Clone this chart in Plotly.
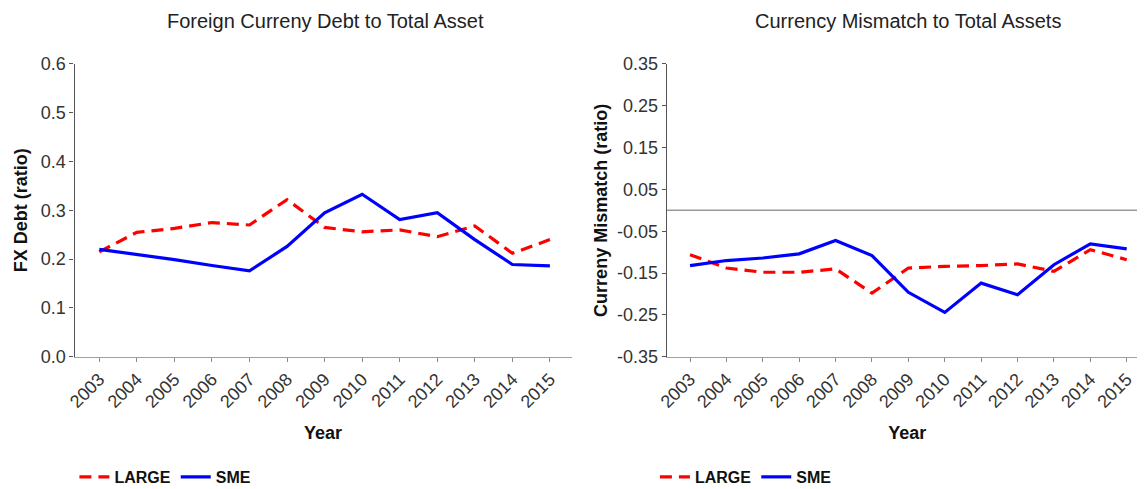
import plotly.graph_objects as go

years = list(range(2003, 2016))

# Foreign currency debt to total assets (ratio)
fx_large = [0.215, 0.255, 0.263, 0.275, 0.270, 0.322, 0.265, 0.256, 0.260, 0.246, 0.268, 0.212, 0.240]
fx_sme = [0.220, 0.210, 0.199, 0.187, 0.176, 0.226, 0.295, 0.333, 0.281, 0.295, 0.240, 0.189, 0.186]

# Currency mismatch to total assets (ratio)
cm_large = [-0.106, -0.138, -0.148, -0.148, -0.140, -0.198, -0.138, -0.134, -0.132, -0.128, -0.146, -0.094, -0.118]
cm_sme = [-0.132, -0.120, -0.114, -0.104, -0.072, -0.108, -0.196, -0.244, -0.174, -0.202, -0.130, -0.080, -0.092]

cm_ticks = [-0.35, -0.25, -0.15, -0.05, 0.05, 0.15, 0.25, 0.35]
cm_ticklabels = ["-0.35", "-0.25", "-0.15", "-0.05", "0.05", "0.15", "0.25", "0.35"]

RED = "#ff0000"
BLUE = "#0000ff"
FONT = "Liberation Sans, Arial, sans-serif"

fig = go.Figure()

fig.add_trace(go.Scatter(x=years, y=fx_large, mode="lines", name="LARGE",
                         line=dict(color=RED, width=3.2, dash="12px,7px"),
                         xaxis="x", yaxis="y", legend="legend"))
fig.add_trace(go.Scatter(x=years, y=fx_sme, mode="lines", name="SME",
                         line=dict(color=BLUE, width=3.2),
                         xaxis="x", yaxis="y", legend="legend"))
fig.add_trace(go.Scatter(x=years, y=cm_large, mode="lines", name="LARGE",
                         line=dict(color=RED, width=3.2, dash="12px,7px"),
                         xaxis="x2", yaxis="y2", legend="legend2"))
fig.add_trace(go.Scatter(x=years, y=cm_sme, mode="lines", name="SME",
                         line=dict(color=BLUE, width=3.2),
                         xaxis="x2", yaxis="y2", legend="legend2"))

# zero reference line on the mismatch panel
fig.add_shape(type="line", xref="x2 domain", yref="y2", x0=0, x1=1, y0=0, y1=0,
              line=dict(color="#999999", width=1.5), layer="below")

tickfont = dict(family=FONT, size=18, color="#333333")
titlefont = dict(family=FONT, size=18, color="#111111")
xcommon = dict(tickmode="array", tickvals=years, tickangle=-45, tickfont=tickfont, automargin=False,
               showgrid=False, zeroline=False, showline=True, linecolor="#a0a0a0", linewidth=1.2,
               ticks="outside", ticklen=4, tickcolor="#888888",
               title=dict(text="<b>Year</b>", font=titlefont, standoff=15))
ycommon = dict(tickfont=tickfont, showgrid=False, zeroline=False, showline=True, automargin=False,
               linecolor="#555555", linewidth=1.2, ticks="outside", ticklen=4, tickcolor="#555555")

fig.update_layout(
    width=1145, height=489,
    margin=dict(l=0, r=0, t=0, b=0),
    plot_bgcolor="white", paper_bgcolor="white",
    font=dict(family=FONT, color="#222222"),
    xaxis=dict(domain=[0.0581, 0.4923], range=[2002.34, 2015.58], anchor="y", **xcommon),
    xaxis2=dict(domain=[0.5753, 0.9955], range=[2002.36, 2015.58], anchor="y2", **xcommon),
    yaxis=dict(domain=[0.2869, 0.8855], range=[0, 0.6], tickvals=[0, 0.1, 0.2, 0.3, 0.4, 0.5, 0.6],
               tickformat=".1f", anchor="x",
               title=dict(text="<b>FX Debt (ratio)</b>", font=titlefont, standoff=8),
               **ycommon),
    yaxis2=dict(domain=[0.2869, 0.8855], range=[-0.35, 0.35],
                tickmode="array", tickvals=cm_ticks, ticktext=cm_ticklabels, anchor="x2",
                title=dict(text="<b>Curreny Mismatch (ratio)</b>", font=titlefont, standoff=4),
                **ycommon),
    legend=dict(orientation="h", x=0.058, y=0.041, xanchor="left", yanchor="middle",
                font=dict(family=FONT, size=16, color="#111111", weight="bold"),
                itemwidth=30, tracegroupgap=0, bgcolor="rgba(0,0,0,0)"),
    legend2=dict(orientation="h", x=0.565, y=0.041, xanchor="left", yanchor="middle",
                 font=dict(family=FONT, size=16, color="#111111", weight="bold"),
                 itemwidth=30, tracegroupgap=0, bgcolor="rgba(0,0,0,0)"),
    annotations=[
        dict(text="Foreign Curreny Debt to Total Asset", xref="paper", yref="paper",
             x=0.2769, y=1, xanchor="center", yanchor="top", showarrow=False,
             font=dict(family=FONT, size=20, color="#222222")),
        dict(text="Currency Mismatch to Total Assets", xref="paper", yref="paper",
             x=0.786, y=1, xanchor="center", yanchor="top", showarrow=False,
             font=dict(family=FONT, size=20, color="#222222")),
    ],
)

fig.write_html("out.html")
